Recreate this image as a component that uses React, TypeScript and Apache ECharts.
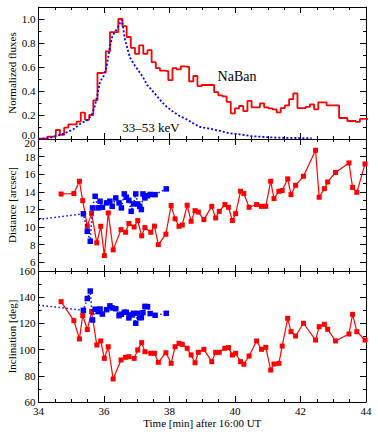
import React, { useEffect, useRef } from 'react';
import * as echarts from 'echarts';

// ---------- data ----------
// Panel 1: NaBan step histogram (bin start, bin width in minutes, normalized values)
const naBanStart = 34.02;
const naBanBin = 0.1272;
const naBanFlux = [
  0.003, 0.003, 0.02, 0.02, 0.075, 0.035, 0.094, 0.122, 0.122, 0.145,
  0.22, 0.16, 0.2, 0.322, 0.55, 0.555, 0.73, 0.89, 0.89, 1.0,
  0.94, 0.85, 0.76, 0.71, 0.78, 0.71, 0.74, 0.64, 0.59, 0.57,
  0.565, 0.49, 0.59, 0.58, 0.605, 0.6, 0.48, 0.525, 0.44, 0.45,
  0.45, 0.45, 0.39, 0.364, 0.356, 0.31, 0.214, 0.256, 0.275, 0.233,
  0.317, 0.264, 0.264, 0.297, 0.264, 0.256, 0.247, 0.222, 0.258, 0.28,
  0.333, 0.38, 0.258, 0.258, 0.267, 0.289, 0.247, 0.306, 0.306, 0.28,
  0.28, 0.28, 0.175, 0.175, 0.15, 0.15, 0.142, 0.167, 0.167,
];

// Panel 1: 33-53 keV curve
const hxrTime = [
  34.0, 34.35, 34.66, 34.86, 35.06, 35.27, 35.47, 35.62, 35.72, 35.8,
  35.88, 35.98, 36.08, 36.18, 36.26, 36.33, 36.4, 36.46, 36.51, 36.54,
  36.58, 36.63, 36.71, 36.79, 36.92, 37.05, 37.18, 37.32, 37.45, 37.61,
  37.76, 37.91, 38.12, 38.32, 38.52, 38.73, 38.93, 39.24, 39.54, 39.85,
  40.15, 40.46, 40.76, 41.07, 41.37, 41.68, 41.98, 42.34,
];
const hxrFlux = [
  0.0, 0.01, 0.035, 0.055, 0.08, 0.125, 0.155, 0.195, 0.275, 0.37,
  0.48, 0.52, 0.6, 0.77, 0.86, 0.89, 0.92, 0.95, 0.98, 0.995,
  0.94, 0.84, 0.76, 0.68, 0.62, 0.57, 0.52, 0.45, 0.41, 0.36,
  0.31, 0.27, 0.225, 0.19, 0.165, 0.13, 0.1, 0.086, 0.067, 0.047,
  0.039, 0.025, 0.019, 0.014, 0.011, 0.009, 0.008, 0.008,
];

// Panels 2 & 3: red source
const redTime = [
  34.69, 35.08, 35.25, 35.35, 35.49, 35.62, 35.78, 35.9, 36.01, 36.13,
  36.28, 36.52, 36.66, 36.76, 36.92, 37.03, 37.15, 37.25, 37.43, 37.54,
  37.66, 37.89, 38.05, 38.17, 38.29, 38.39, 38.54, 38.66, 38.78, 38.88,
  39.05, 39.29, 39.41, 39.52, 39.69, 39.8, 39.92, 40.02, 40.17, 40.27,
  40.43, 40.66, 40.81, 40.94, 41.09, 41.19, 41.34, 41.44, 41.61, 41.71,
  41.85, 42.09, 42.46, 42.57, 42.73, 42.83, 43.07, 43.48, 43.59, 43.72,
  43.97,
];
const redDistance = [
  13.75, 13.8, 15.2, 13.0, 10.1, 11.55, 8.2, 10.08, 6.75, 11.6,
  7.4, 9.7, 9.4, 10.4, 10.0, 10.73, 9.0, 9.93, 9.4, 10.1,
  8.0, 9.18, 12.45, 10.93, 10.08, 10.23, 12.47, 10.65, 11.86, 11.7,
  10.84, 12.35, 11.03, 11.78, 12.55, 12.24, 10.73, 11.52, 14.06, 13.8,
  12.24, 12.55, 12.35, 12.35, 15.2, 13.23, 14.06, 14.14, 15.47, 13.68,
  14.74, 15.76, 18.72, 13.38, 14.36, 15.12, 16.2, 17.28, 14.5, 13.94,
  17.17,
];
const redInclination = [
  136.6, 122.1, 108.1, 126, 115.3, 129, 103.5, 106.6, 93.3, 102.2,
  77.6, 92.1, 94.1, 94.6, 93.3, 99.7, 105.3, 98.4, 97.2, 97.2,
  90.3, 97.6, 89.5, 102.2, 104.8, 104, 101, 95.9, 90.0, 97.9,
  100.2, 90.8, 97.9, 97.9, 101, 101.5, 95.9, 97.2, 90.8, 88.8,
  95.1, 106.6, 100.2, 101.7, 84.4, 89, 89.5, 102.7, 123.9, 113.7,
  110.4, 120.1, 107.3, 117.5, 119.3, 115.5, 106.6, 111.9, 126.9, 113.7,
  107.3,
];

// Panels 2 & 3: blue source (lead point = line coming in from the left edge, no marker)
const blueLeadTime = 34.0;
const blueLeadDistance = 10.85;
const blueLeadInclination = 134.0;
const blueTime = [
  35.37, 35.49, 35.58, 35.65, 35.73, 35.82, 35.88, 35.95, 36.08, 36.18,
  36.25, 36.36, 36.46, 36.53, 36.62, 36.68, 36.76, 36.83, 36.9, 36.97,
  37.03, 37.09, 37.14, 37.19, 37.25, 37.33, 37.41, 37.56, 37.9,
];
const blueDistance = [
  11.5, 9.5, 8.38, 12.17, 13.49, 12.17, 12.93, 12.24, 12.74, 12.93,
  12.35, 13.3, 12.74, 12.17, 13.76, 13.38, 13.03, 11.78, 12.62, 13.76,
  12.62, 12.35, 11.98, 13.76, 13.3, 13.55, 13.7, 13.68, 14.33,
];
const blueInclination = [
  130, 139, 144.7, 122.6, 130.8, 129, 131, 127.1, 130.5, 133.4,
  131.8, 131.2, 125.9, 127, 128.5, 128.5, 124.2, 126.5, 127.7, 120.1,
  127.7, 124.4, 124.4, 128.2, 133, 132.8, 127.5, 126.2, 127.7,
];

// Axis ticks
const xTicks = { min: 34, max: 44, step: 2, minorSplit: 4 };
const fluxTicks = [0, 0.2, 0.4, 0.6, 0.8, 1.0];
const distTicks = [6, 8, 10, 12, 14, 16, 18, 20];
const inclTicks = [60, 80, 100, 120, 140, 160];

// ---------- layout / style ----------
const FONT = '"Liberation Serif", "DejaVu Serif", "Times New Roman", serif';
const RED = '#ff0000';
const BLUE = '#0000ff';
const BLACK = '#000000';
const panels = [
  { top: 7, height: 132, min: 0, max: 1.1, minor: 0.1, ticks: fluxTicks, name: 'Normalized fluxes', fmt: (v: number) => v.toFixed(1), vMin: 'bottom', vMax: 'middle' },
  { top: 139, height: 132, min: 5, max: 20, minor: 1, ticks: distTicks, name: 'Distance [arcsec]', fmt: (v: number) => String(v), vMin: 'middle', vMax: 'top' },
  { top: 271, height: 131, min: 60, max: 160, minor: 10, ticks: inclTicks, name: 'Inclination [deg]', fmt: (v: number) => String(v), vMin: 'middle', vMax: 'middle' },
];

function buildOption() {
  const grid = panels.map((p) => ({
    left: 38.5,
    right: 12,
    top: p.top,
    height: p.height,
    containLabel: false,
    outerBoundsMode: 'none',
    show: false,
  }));

  const xAxis: any[] = [];
  panels.forEach((_, i) => {
    const last = i === panels.length - 1;
    ['bottom', 'top'].forEach((pos) => {
      xAxis.push({
        type: 'value',
        gridIndex: i,
        position: pos,
        min: xTicks.min,
        max: xTicks.max,
        interval: xTicks.step,
        axisLine: { show: true, onZero: false, lineStyle: { color: BLACK, width: 1 } },
        axisTick: { show: true, inside: true, length: 6, lineStyle: { color: BLACK, width: 1 } },
        minorTick: { show: true, splitNumber: xTicks.minorSplit, length: 3, lineStyle: { color: BLACK, width: 1 } },
        splitLine: { show: false },
        axisLabel: {
          show: last && pos === 'bottom',
          color: BLACK,
          fontFamily: FONT,
          fontSize: 11,
          lineHeight: 11,
          margin: 3,
          formatter: (v: number) => String(v),
        },
        name: last && pos === 'bottom' ? 'Time [min] after 16:00 UT' : '',
        nameLocation: 'middle',
        nameGap: 15,
        nameMoveOverlap: false,
        nameTextStyle: { color: BLACK, fontFamily: FONT, fontSize: 11, lineHeight: 11 },
      });
    });
  });

  const yAxis: any[] = [];
  panels.forEach((p, i) => {
    ['left', 'right'].forEach((pos) => {
      // major ticks + labels
      yAxis.push({
        type: 'value',
        gridIndex: i,
        position: pos,
        min: p.min,
        max: p.max,
        axisLine: { show: true, onZero: false, lineStyle: { color: BLACK, width: 1 } },
        axisTick: { show: true, inside: true, length: 6, customValues: p.ticks, lineStyle: { color: BLACK, width: 1 } },
        splitLine: { show: false },
        axisLabel: {
          show: pos === 'left',
          customValues: p.ticks,
          color: BLACK,
          fontFamily: FONT,
          fontSize: 11,
          lineHeight: 8,
          margin: 3,
          showMinLabel: true,
          showMaxLabel: true,
          verticalAlignMinLabel: p.vMin,
          verticalAlignMaxLabel: p.vMax,
          formatter: p.fmt,
        },
        name: pos === 'left' ? p.name : '',
        nameLocation: 'middle',
        nameGap: 21,
        nameMoveOverlap: false,
        nameTextStyle: { color: BLACK, fontFamily: FONT, fontSize: 11 },
      });
      // minor ticks
      yAxis.push({
        type: 'value',
        gridIndex: i,
        position: pos,
        min: p.min,
        max: p.max,
        interval: p.minor,
        axisLine: { show: false, onZero: false },
        axisTick: { show: true, inside: true, length: 3, lineStyle: { color: BLACK, width: 1 } },
        splitLine: { show: false },
        axisLabel: { show: false },
      });
    });
  });

  const naBanData: number[][] = naBanFlux.map((v, j) => [naBanStart + j * naBanBin, v]);
  naBanData.push([naBanStart + naBanFlux.length * naBanBin, naBanFlux[naBanFlux.length - 1]]);

  const hxrData = hxrTime.map((t, k) => [t, hxrFlux[k]]);

  const pairs = (ts: number[], vs: number[]) => ts.map((t, k) => [t, vs[k]]);
  const blueWithLead = (lead: number, vs: number[]) => [
    { value: [blueLeadTime, lead], symbol: 'none' },
    ...pairs(blueTime, vs),
  ];

  const redSeries = (i: number, vs: number[]) => ({
    type: 'line',
    xAxisIndex: 2 * i,
    yAxisIndex: 4 * i,
    data: pairs(redTime, vs),
    symbol: 'rect',
    symbolSize: 5,
    itemStyle: { color: RED },
    lineStyle: { color: RED, width: 1.2 },
    z: 3,
  });
  const blueSeries = (i: number, lead: number, vs: number[]) => ({
    type: 'line',
    xAxisIndex: 2 * i,
    yAxisIndex: 4 * i,
    data: blueWithLead(lead, vs),
    symbol: 'rect',
    symbolSize: 5.5,
    itemStyle: { color: BLUE },
    lineStyle: { color: BLUE, width: 1.5, type: [1.5, 2.5] },
    z: 4,
  });

  const series: any[] = [
    {
      type: 'line',
      xAxisIndex: 0,
      yAxisIndex: 0,
      data: naBanData,
      step: 'end',
      symbol: 'none',
      lineStyle: { color: RED, width: 1.8 },
      z: 3,
    },
    {
      type: 'line',
      xAxisIndex: 0,
      yAxisIndex: 0,
      data: hxrData,
      symbol: 'none',
      lineStyle: { color: BLUE, width: 1.8, type: [2, 2] },
      z: 4,
    },
    redSeries(1, redDistance),
    blueSeries(1, blueLeadDistance, blueDistance),
    redSeries(2, redInclination),
    blueSeries(2, blueLeadInclination, blueInclination),
  ];

  const graphic = [
    {
      type: 'text',
      x: 237,
      y: 76,
      style: { text: 'NaBan', fontFamily: FONT, fontSize: 14, fill: BLACK, align: 'center', verticalAlign: 'middle' },
    },
    {
      type: 'text',
      x: 151,
      y: 127,
      style: { text: '33\u201353 keV', fontFamily: FONT, fontSize: 13, fill: BLACK, align: 'center', verticalAlign: 'middle' },
    },
  ];

  return {
    animation: false,
    backgroundColor: '#ffffff',
    grid,
    xAxis,
    yAxis,
    series,
    graphic,
  };
}

export default function App() {
  const ref = useRef<HTMLDivElement>(null);
  useEffect(() => {
    if (!ref.current) return;
    const chart = echarts.init(ref.current, null, { renderer: 'svg' });
    chart.setOption(buildOption() as any);
    return () => {
      chart.dispose();
    };
  }, []);
  return (
    <div
      ref={ref}
      style={{ position: 'fixed', left: 0, top: 0, width: 378, height: 432, background: '#ffffff' }}
    />
  );
}
